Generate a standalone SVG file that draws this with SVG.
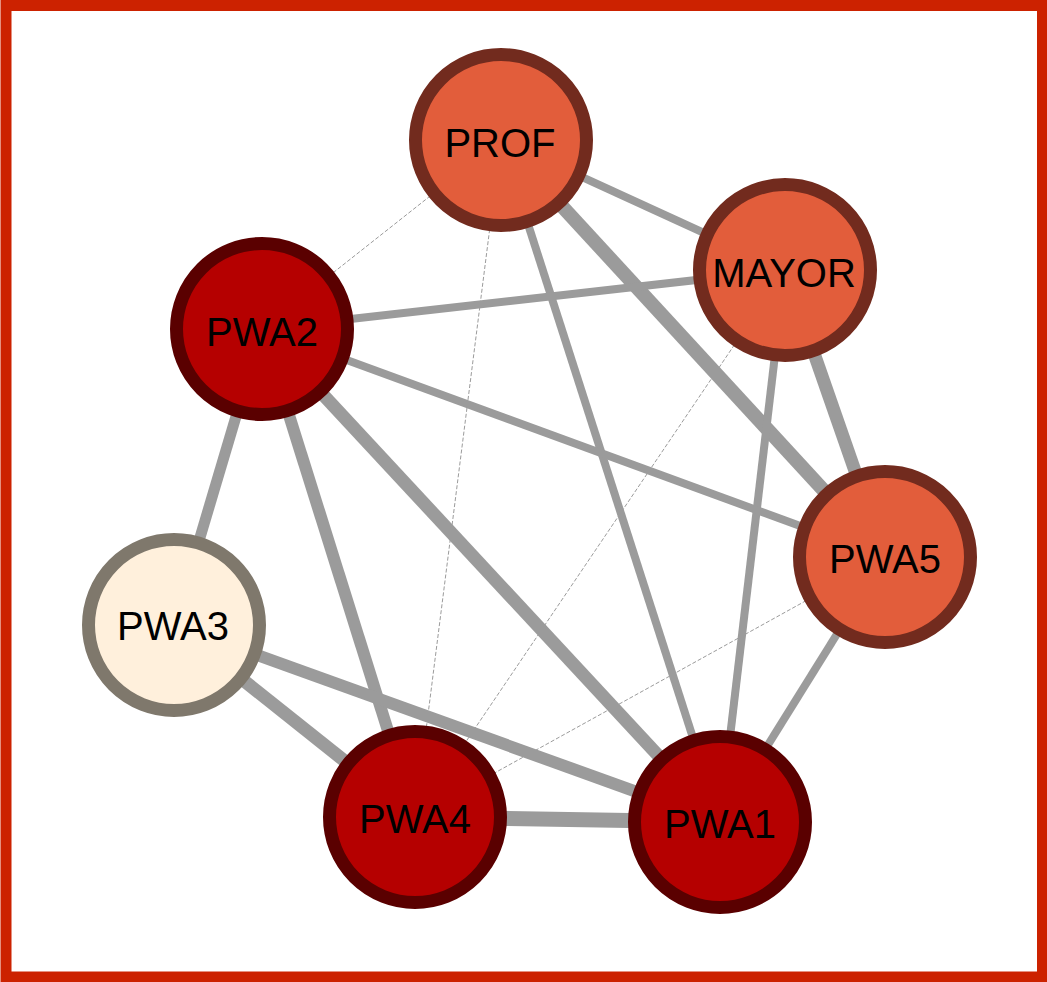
<svg xmlns="http://www.w3.org/2000/svg" width="1047" height="982" viewBox="0 0 1047 982">
<style>
.e{stroke:#9b9b9b;fill:none;stroke-linecap:butt}
.d{stroke:#9b9b9b;stroke-width:1;stroke-dasharray:4,2;fill:none}
.n circle{stroke-width:13}
.o circle{fill:#e25d3b;stroke:#722b1e}
.r circle{fill:#b50000;stroke:#5a0000}
.c circle{fill:#fff0dc;stroke:#7f786c}
.n text{font-family:"Liberation Sans",Arial,sans-serif;font-size:40px;fill:#000;text-anchor:middle}
</style>
<rect width="1047" height="982" fill="#ffffff"/>
<g id="edges">
<line class="d" x1="501" y1="140" x2="262" y2="329"/>
<line class="d" x1="501" y1="140" x2="415" y2="817"/>
<line class="d" x1="785" y1="270" x2="415" y2="817"/>
<line class="d" x1="885" y1="557" x2="415" y2="817"/>
<line class="e" stroke-width="14" x1="501" y1="140" x2="885" y2="557"/>
<line class="e" stroke-width="8" x1="501" y1="140" x2="785" y2="270"/>
<line class="e" stroke-width="8" x1="501" y1="140" x2="720" y2="822"/>
<line class="e" stroke-width="8" x1="785" y1="270" x2="262" y2="329"/>
<line class="e" stroke-width="13" x1="785" y1="270" x2="885" y2="557"/>
<line class="e" stroke-width="8" x1="785" y1="270" x2="720" y2="822"/>
<line class="e" stroke-width="8" x1="262" y1="329" x2="885" y2="557"/>
<line class="e" stroke-width="13" x1="262" y1="329" x2="720" y2="822"/>
<line class="e" stroke-width="12" x1="262" y1="329" x2="415" y2="817"/>
<line class="e" stroke-width="11" x1="262" y1="329" x2="174" y2="625"/>
<line class="e" stroke-width="12" x1="174" y1="625" x2="720" y2="822"/>
<line class="e" stroke-width="13" x1="174" y1="625" x2="415" y2="817"/>
<line class="e" stroke-width="15" x1="415" y1="817" x2="720" y2="822"/>
<line class="e" stroke-width="8" x1="885" y1="557" x2="720" y2="822"/>
</g>
<g id="PROF" class="n o"><circle cx="501" cy="140" r="85.5"/><text x="500" y="157">PROF</text></g>
<g id="MAYOR" class="n o"><circle cx="785" cy="270" r="85.5"/><text x="784" y="287">MAYOR</text></g>
<g id="PWA2" class="n r"><circle cx="262" cy="329" r="85.5"/><text x="262" y="346">PWA2</text></g>
<g id="PWA5" class="n o"><circle cx="885" cy="557" r="85.5"/><text x="885" y="573">PWA5</text></g>
<g id="PWA3" class="n c"><circle cx="174" cy="625" r="85.5"/><text x="173" y="640">PWA3</text></g>
<g id="PWA4" class="n r"><circle cx="415" cy="817" r="85.5"/><text x="415" y="833">PWA4</text></g>
<g id="PWA1" class="n r"><circle cx="720" cy="822" r="85.5"/><text x="720" y="838">PWA1</text></g>
<rect x="6" y="5.5" width="1036.5" height="971.5" fill="none" stroke="#cc2200" stroke-width="11"/>
</svg>
